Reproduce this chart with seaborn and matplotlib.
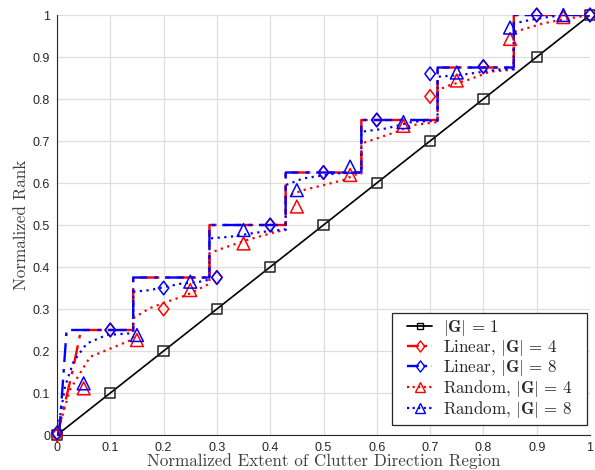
import numpy as np
import pandas as pd
import seaborn as sns
import matplotlib
matplotlib.use("Agg")
import matplotlib.pyplot as plt
from matplotlib.lines import Line2D
from matplotlib.path import Path
from matplotlib.patches import Rectangle

# ---------------- data ----------------
tick_vals = [0, 0.1, 0.2, 0.3, 0.4, 0.5, 0.6, 0.7, 0.8, 0.9, 1.0]
tick_labels = ["0", "0.1", "0.2", "0.3", "0.4", "0.5", "0.6", "0.7", "0.8", "0.9", "1"]

# |G| = 1 reference (line + square markers)
ref_x = [0, 0.1, 0.2, 0.3, 0.4, 0.5, 0.6, 0.7, 0.8, 0.9, 1.0]
ref_y = [0, 0.1, 0.2, 0.3, 0.4, 0.5, 0.6, 0.7, 0.8, 0.9, 1.0]

# Linear, |G| = 4 (red dash-dot line)
lin4_x = [0, 0.012, 0.031, 0.045, 0.143, 0.143, 0.286, 0.286, 0.429, 0.429,
          0.571, 0.571, 0.714, 0.714, 0.857, 0.857, 1.0]
lin4_y = [0, 0.06, 0.163, 0.25, 0.25, 0.375, 0.375, 0.5, 0.5, 0.625,
          0.625, 0.75, 0.75, 0.875, 0.875, 1.0, 1.0]
# Linear, |G| = 8 (blue dash-dot line)
lin8_x = [0.004, 0.018, 0.143, 0.143, 0.286, 0.286, 0.429, 0.429,
          0.571, 0.571, 0.714, 0.714, 0.857, 0.857, 1.0]
lin8_y = [0, 0.25, 0.25, 0.375, 0.375, 0.5, 0.5, 0.625,
          0.625, 0.75, 0.75, 0.875, 0.875, 1.0, 1.0]

# Random, |G| = 4 (red dotted line)
rnd4_x = [0, 0.024, 0.062, 0.093, 0.131, 0.143,
          0.143, 0.174, 0.206, 0.243, 0.281, 0.286,
          0.286, 0.312, 0.356, 0.412, 0.429,
          0.429, 0.462, 0.5, 0.537, 0.56, 0.571,
          0.571, 0.6, 0.637, 0.668, 0.714,
          0.714, 0.737, 0.775, 0.812, 0.857,
          0.857, 0.881, 0.912, 0.944, 1.0]
rnd4_y = [0, 0.107, 0.186, 0.202, 0.222, 0.228,
          0.278, 0.302, 0.317, 0.333, 0.357, 0.36,
          0.433, 0.445, 0.464, 0.484, 0.488,
          0.567, 0.583, 0.595, 0.607, 0.62, 0.622,
          0.694, 0.706, 0.722, 0.738, 0.745,
          0.821, 0.833, 0.847, 0.865, 0.87,
          0.96, 0.968, 0.98, 0.988, 1.0]
# Random, |G| = 8 (blue dotted line)
rnd8_x = [0, 0.015, 0.031, 0.056, 0.093, 0.137, 0.143,
          0.143, 0.174, 0.231, 0.268, 0.286,
          0.286, 0.325, 0.375, 0.418, 0.429,
          0.429, 0.462, 0.525, 0.571,
          0.571, 0.618, 0.668, 0.714,
          0.714, 0.756, 0.8, 0.827, 0.857,
          0.857, 0.887, 0.925, 0.96, 1.0]
rnd8_y = [0, 0.115, 0.175, 0.218, 0.238, 0.242, 0.245,
          0.341, 0.345, 0.36, 0.365, 0.37,
          0.468, 0.472, 0.482, 0.488, 0.49,
          0.595, 0.611, 0.623, 0.625,
          0.722, 0.73, 0.746, 0.748,
          0.853, 0.857, 0.865, 0.87, 0.872,
          0.98, 0.988, 0.996, 1.0, 1.0]

# marker samples
dia_x = [0, 0.1, 0.2, 0.3, 0.4, 0.5, 0.6, 0.7, 0.8, 0.9, 1.0]
dia4_y = [0.0, 0.25, 0.30, 0.375, 0.5, 0.625, 0.75, 0.806, 0.877, 1.0, 1.0]
dia8_y = [0.005, 0.25, 0.35, 0.375, 0.5, 0.625, 0.75, 0.86, 0.877, 1.0, 1.0]
tri_x = [0.05, 0.15, 0.25, 0.35, 0.45, 0.55, 0.65, 0.75, 0.85, 0.95]
tri4_y = [0.111, 0.226, 0.345, 0.456, 0.544, 0.619, 0.736, 0.844, 0.943, 0.995]
tri8_y = [0.123, 0.238, 0.365, 0.488, 0.583, 0.639, 0.745, 0.863, 0.970, 1.0]

labels = [r"$|\mathbf{G}|\,=\,1$",
          r"Linear, $|\mathbf{G}|\,=\,4$",
          r"Linear, $|\mathbf{G}|\,=\,8$",
          r"Random, $|\mathbf{G}|\,=\,4$",
          r"Random, $|\mathbf{G}|\,=\,8$"]
xlabel = "Normalized Extent of Clutter Direction Region"
ylabel = "Normalized Rank"

# ---------------- style ----------------
sns.set_style("white")
plt.rcParams["font.family"] = ["Liberation Sans", "DejaVu Sans"]
plt.rcParams["mathtext.fontset"] = "cm"

dark = "#262626"
diamond = Path([(-0.77, 0), (0, 1), (0.77, 0), (0, -1), (-0.77, 0)],
               [Path.MOVETO, Path.LINETO, Path.LINETO, Path.LINETO, Path.CLOSEPOLY])

fig = plt.figure(figsize=(5.95, 4.70), dpi=100)
ax = fig.add_axes([57 / 595, 35 / 470, 533 / 595, 420 / 470])

dashdot = (0, (8, 3, 1.5, 3))
dotted = (0, (1, 2.0))

# lines
sns.lineplot(x=ref_x, y=ref_y, estimator=None, sort=False, color="black",
             linewidth=1.2, ax=ax, zorder=3)
sns.lineplot(x=lin4_x, y=lin4_y, estimator=None, sort=False, color="red",
             linewidth=1.7, ax=ax, zorder=4).lines[-1].set_linestyle(dashdot)
sns.lineplot(x=lin8_x, y=lin8_y, estimator=None, sort=False, color="blue",
             linewidth=1.7, ax=ax, zorder=5).lines[-1].set_linestyle(dashdot)
sns.lineplot(x=rnd4_x, y=rnd4_y, estimator=None, sort=False, color="red",
             linewidth=1.6, ax=ax, zorder=6).lines[-1].set_linestyle(dotted)
sns.lineplot(x=rnd8_x, y=rnd8_y, estimator=None, sort=False, color="blue",
             linewidth=1.6, ax=ax, zorder=7).lines[-1].set_linestyle(dotted)

# markers
def open_markers(xs, ys, marker, size, color, z):
    sns.scatterplot(x=xs, y=ys, marker=marker, s=size, color=color, ax=ax,
                    zorder=z, legend=False)
    coll = ax.collections[-1]
    coll.set_facecolor("none")
    coll.set_edgecolor(color)
    coll.set_linewidth(1.1)
    coll.set_clip_on(False)

open_markers(ref_x, ref_y, "s", 55, "#222222", 8)
open_markers(dia_x, dia4_y, diamond, 95, "red", 9)
open_markers(dia_x, dia8_y, diamond, 95, "blue", 10)
open_markers(tri_x, tri4_y, "^", 85, "red", 11)
open_markers(tri_x, tri8_y, "^", 85, "blue", 12)

# axes
ax.set_xlim(0, 1)
ax.set_ylim(0, 1)
ax.set_xticks(tick_vals)
ax.set_xticklabels(tick_labels)
ax.set_yticks(tick_vals)
ax.set_yticklabels(tick_labels)
ax.grid(True, color="#dedede", linewidth=0.9)
ax.set_axisbelow(True)
for s in ["top", "right"]:
    ax.spines[s].set_visible(False)
for s in ["left", "bottom"]:
    ax.spines[s].set_color(dark)
    ax.spines[s].set_linewidth(0.8)
ax.tick_params(direction="in", length=4, width=0.6, colors=dark,
               labelsize=9, pad=5)

ax.set_xlabel(xlabel, fontsize=12.3, color="#404040", fontfamily="cmr10")
ax.set_ylabel(ylabel, fontsize=12.3, color="#404040", fontfamily="cmr10")
ax.xaxis.set_label_coords(0.5, -0.043)
ax.yaxis.set_label_coords(-0.052, 0.5)

# legend
handles = [
    Line2D([], [], color="black", linewidth=1.3, marker="s", markersize=5,
           markerfacecolor="none", markeredgecolor="black"),
    Line2D([], [], color="red", linewidth=1.7, linestyle=(0, (5, 2, 1.5, 2)),
           marker=diamond, markersize=8, markerfacecolor="none", markeredgecolor="red"),
    Line2D([], [], color="blue", linewidth=1.7, linestyle=(0, (5, 2, 1.5, 2)),
           marker=diamond, markersize=8, markerfacecolor="none", markeredgecolor="blue"),
    Line2D([], [], color="red", linewidth=1.6, linestyle=(0, (1, 1.5)),
           marker="^", markersize=7, markerfacecolor="none", markeredgecolor="red"),
    Line2D([], [], color="blue", linewidth=1.6, linestyle=(0, (1, 1.5)),
           marker="^", markersize=7, markerfacecolor="none", markeredgecolor="blue"),
]
leg = ax.legend(handles, labels, loc="lower right", bbox_to_anchor=(0.966, 0.036),
                prop={"family": "cmr10", "size": 12.2}, frameon=False,
                handlelength=1.5, handletextpad=0.6, labelspacing=0.0,
                borderpad=0.0, borderaxespad=0.0, numpoints=1)
leg.set_zorder(20)
for t in leg.get_texts():
    t.set_color("#262626")

# legend frame with MATLAB-like padding
fig.canvas.draw()
bb = leg.get_window_extent().transformed(ax.transAxes.inverted())
padx = 15 / 533
pady = 5 / 420
frame = Rectangle((bb.x0 - padx, bb.y0 - pady), bb.width + 2 * padx,
                  bb.height + 2 * pady, transform=ax.transAxes,
                  facecolor="white", edgecolor=dark, linewidth=0.9,
                  zorder=19, clip_on=False)
ax.add_patch(frame)

fig.savefig("out.png", dpi=100)
